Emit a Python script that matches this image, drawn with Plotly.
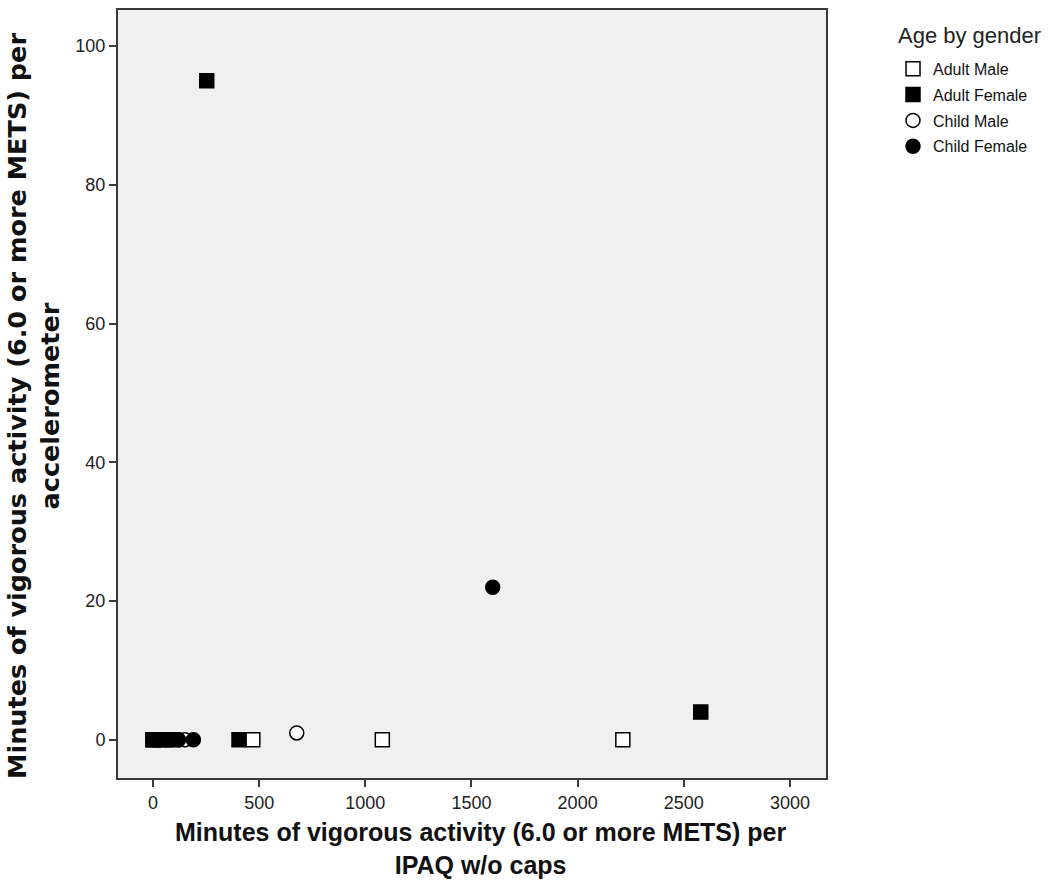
import plotly.graph_objects as go

# Data (x = IPAQ minutes, y = accelerometer minutes)
adult_male_x = [0, 470, 1080, 2213]
adult_male_y = [0, 0, 0, 0]
adult_female_x = [0, 30, 60, 95, 253, 405, 2580]
adult_female_y = [0, 0, 0, 0, 95, 0, 4]
child_male_x = [150, 677]
child_male_y = [0, 1]
child_female_x = [120, 190, 1600]
child_female_y = [0, 0, 22]

x_ticks = [0, 500, 1000, 1500, 2000, 2500, 3000]
y_ticks = [0, 20, 40, 60, 80, 100]

x_title = ["Minutes of vigorous activity (6.0 or more METS) per", "IPAQ w/o caps"]
y_title = ["Minutes of vigorous activity (6.0 or more METS) per", "accelerometer"]
legend_title = "Age by gender"

groups = [
    ("Adult Male", adult_male_x, adult_male_y, "square", "white"),
    ("Adult Female", adult_female_x, adult_female_y, "square", "black"),
    ("Child Male", child_male_x, child_male_y, "circle", "white"),
    ("Child Female", child_female_x, child_female_y, "circle", "black"),
]

fig = go.Figure()
for name, xs, ys, sym, fill in groups:
    fig.add_trace(go.Scatter(
        x=xs, y=ys, mode="markers", name=name, legendgroup=name,
        marker=dict(symbol=sym, size=14, color=fill,
                    line=dict(color="black", width=1.5)),
    ))

SANS = "Liberation Sans, Arial, sans-serif"
axis_common = dict(
    showgrid=False, zeroline=False, showline=True, mirror=True,
    linecolor="#3a3a3a", linewidth=2,
    ticks="outside", ticklen=7, tickwidth=1.5, tickcolor="#3a3a3a",
    tickfont=dict(family=SANS, size=18, color="#222"),
)

L, R, T, B = 118, 233, 8, 106
W, H = 1059, 884
PW, PH = W - L - R, H - T - B

def px_x(px):
    return (px - L) / PW

def px_y(py):
    return (H - B - py) / PH

annotations = [
    dict(text="<br>".join(x_title), x=px_x(480), y=px_y(849), xref="paper", yref="paper",
         xanchor="center", yanchor="middle", showarrow=False,
         font=dict(family=SANS, size=25, color="#111", weight="bold")),
    dict(text="<br>".join(y_title), x=px_x(34), y=px_y(405), xref="paper", yref="paper",
         xanchor="center", yanchor="middle", showarrow=False, textangle=-90,
         font=dict(family="DejaVu Sans, sans-serif", size=25.5, color="#111", weight="bold")),
    dict(text=legend_title, x=px_x(896), y=px_y(34), xref="paper", yref="paper",
         xanchor="left", yanchor="middle", showarrow=False,
         font=dict(family=SANS, size=22, color="#222")),
]

fig.update_layout(
    width=W, height=H,
    margin=dict(l=L, r=R, t=T, b=B),
    paper_bgcolor="white", plot_bgcolor="#F0F0F0",
    xaxis=dict(range=[-165, 3170], tickvals=x_ticks, **axis_common),
    yaxis=dict(range=[-5.5, 105.2], tickvals=y_ticks, **axis_common),
    legend=dict(
        x=px_x(893), y=px_y(50), xanchor="left", yanchor="top",
        font=dict(family=SANS, size=16, color="#111"),
        itemwidth=30, bgcolor="rgba(0,0,0,0)", tracegroupgap=2,
    ),
    annotations=annotations,
)

fig.write_html("out.html")
